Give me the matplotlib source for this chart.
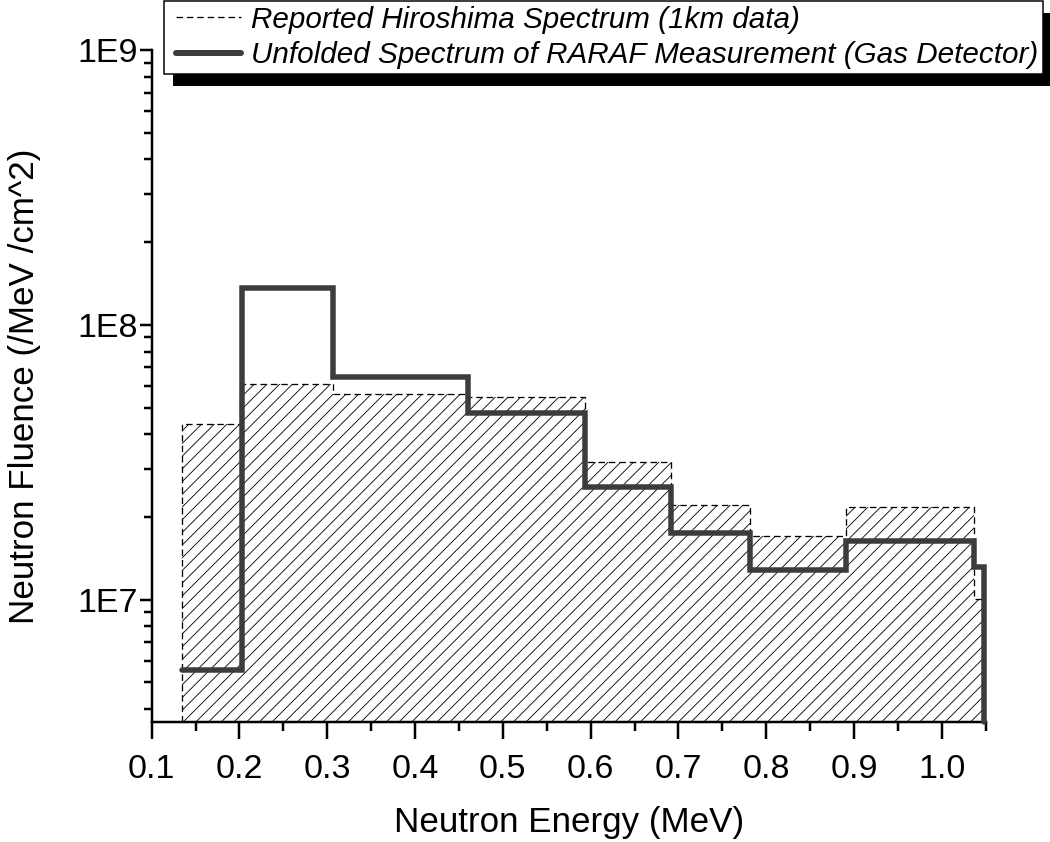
import numpy as np
import matplotlib
matplotlib.use("Agg")
import matplotlib.pyplot as plt
from matplotlib.lines import Line2D
from matplotlib.patches import Rectangle
from matplotlib.collections import LineCollection
from matplotlib.transforms import IdentityTransform
from matplotlib.legend_handler import HandlerLine2D
from matplotlib.ticker import FixedLocator, LogLocator, NullFormatter

# ---------------- data ----------------
hiro_edges = [0.134, 0.201, 0.307, 0.460, 0.594, 0.691, 0.781, 0.891, 1.037, 1.048]
hiro_vals = [4.37e7, 6.09e7, 5.60e7, 5.46e7, 3.16e7, 2.21e7, 1.70e7, 2.18e7, 1.01e7]

raraf_edges = [0.134, 0.203, 0.307, 0.460, 0.594, 0.691, 0.781, 0.891, 1.037, 1.048]
raraf_vals = [5.53e6, 1.36e8, 6.48e7, 4.78e7, 2.58e7, 1.75e7, 1.285e7, 1.64e7, 1.315e7]

x_ticks = [0.1, 0.2, 0.3, 0.4, 0.5, 0.6, 0.7, 0.8, 0.9, 1.0]
x_tick_labels = ["0.1", "0.2", "0.3", "0.4", "0.5", "0.6", "0.7", "0.8", "0.9", "1.0"]
y_ticks = [1e7, 1e8, 1e9]
y_tick_labels = ["1E7", "1E8", "1E9"]

label_hiro = "Reported Hiroshima Spectrum (1km data)"
label_raraf = "Unfolded Spectrum of RARAF Measurement (Gas Detector)"
x_label = "Neutron Energy (MeV)"
y_label = "Neutron Fluence (/MeV /cm^2)"

XMIN, XMAX = 0.1, 1.05
YMIN, YMAX = 3.6e6, 1e9

# ---------------- style ----------------
DPI = 100
PT = 72.0 / DPI  # points per pixel
W, H = 1050, 842

plt.rcParams['font.family'] = ['Liberation Sans', 'DejaVu Sans']

fig = plt.figure(figsize=(W / DPI, H / DPI), dpi=DPI)
ax_left, ax_bottom = 151.7 / W, 1 - 721.7 / H
ax_w_px, ax_h_px = 985.7 - 151.7, 721.7 - 50
ax = fig.add_axes([ax_left, ax_bottom, ax_w_px / W, ax_h_px / H])
ax.patch.set_visible(False)

# Dashed histogram outline (fill region used for the hatch clip)
st = ax.stairs(hiro_vals, hiro_edges, baseline=YMIN, fill=True, facecolor='none',
               edgecolor='black', linewidth=1.3 * PT,
               linestyle=(0, (5, 3)), zorder=2)

# Hatch drawn as 45-degree lines, clipped to the histogram area
spacing = 12.7 / ax_w_px
ratio = ax_w_px / ax_h_px
offsets = np.arange(-1.5, 1.5, spacing)
segs = [[(c, 0.0), (c + 1.5, 1.5 * ratio)] for c in offsets]
hatch = LineCollection(segs, colors='black', linewidths=0.85 * PT,
                       transform=ax.transAxes, zorder=1.5)
ax.add_collection(hatch)
hatch.set_clip_path(st)

# Solid step line (ending with a drop to the axis floor)
xs = np.repeat(raraf_edges, 2)[1:-1]
ys = np.repeat(raraf_vals, 2)
xs = np.append(xs, raraf_edges[-1])
ys = np.append(ys, YMIN)
ax.plot(xs, ys, color='#3c3c3c', lw=5.5 * PT, solid_capstyle='round',
        solid_joinstyle='miter', zorder=3, clip_on=False)

ax.set_yscale('log')
ax.set_xlim(XMIN, XMAX)
ax.set_ylim(YMIN, YMAX)

ax.xaxis.set_major_locator(FixedLocator(x_ticks))
ax.set_xticklabels(x_tick_labels)
ax.xaxis.set_minor_locator(FixedLocator(np.arange(0.15, 1.0501, 0.1)))
ax.yaxis.set_major_locator(FixedLocator(y_ticks))
ax.set_yticklabels(y_tick_labels)
ax.yaxis.set_minor_locator(LogLocator(base=10, subs=np.arange(2, 10)))
ax.yaxis.set_minor_formatter(NullFormatter())

for s in ['top', 'right']:
    ax.spines[s].set_visible(False)
for s in ['left', 'bottom']:
    ax.spines[s].set_linewidth(2.5 * PT)

ax.tick_params(axis='x', which='major', direction='out', length=17 * PT,
               width=2.5 * PT, labelsize=34 * PT, pad=15 * PT)
ax.tick_params(axis='x', which='minor', direction='out', length=9 * PT, width=2.5 * PT)
ax.tick_params(axis='y', which='major', direction='out', length=12 * PT,
               width=2.5 * PT, labelsize=34 * PT, pad=1.5 * PT)
ax.tick_params(axis='y', which='minor', direction='out', length=8 * PT, width=2.5 * PT)

ax.set_xlabel(x_label, fontsize=35 * PT, labelpad=21 * PT)
ax.set_ylabel(y_label, fontsize=35 * PT, labelpad=37 * PT)

# Legend
FS = 29.6  # px
leg_prop = {'family': 'Liberation Sans', 'style': 'italic', 'size': FS * PT}
h1 = Line2D([], [], color='black', lw=1.3 * PT, linestyle=(0, (5, 3)))
h2 = Line2D([], [], color='#3c3c3c', lw=6 * PT, solid_capstyle='round')
hmap = {h1: HandlerLine2D(xpad=0.24), h2: HandlerLine2D(xpad=0.24)}
leg = fig.legend([h1, h2], [label_hiro, label_raraf], loc='upper left',
                 bbox_to_anchor=(164 / W, 1 - 1 / H), bbox_transform=fig.transFigure,
                 prop=leg_prop, frameon=True, fancybox=False, framealpha=1,
                 edgecolor='black', borderpad=0.16, labelspacing=0.26,
                 handlelength=2.43, handletextpad=0.34, borderaxespad=0,
                 handler_map=hmap)
leg.get_frame().set_linewidth(1.5 * PT)
leg.set_zorder(10)

fig.canvas.draw()
bb = leg.get_window_extent()
shadow = Rectangle((bb.x0 + 9, bb.y0 - 12), bb.width, bb.height,
                   transform=IdentityTransform(), facecolor='black',
                   edgecolor='none', zorder=9)
fig.add_artist(shadow)

fig.savefig("out.png", dpi=DPI)
